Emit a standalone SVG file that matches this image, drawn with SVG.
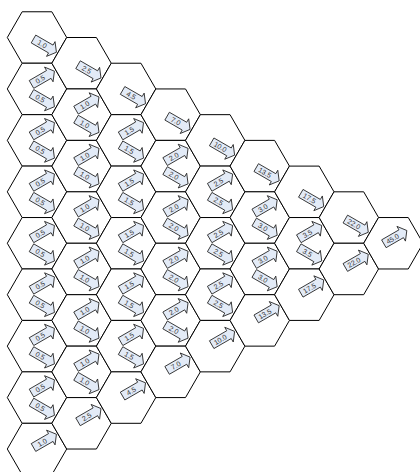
<svg xmlns="http://www.w3.org/2000/svg" xmlns:xlink="http://www.w3.org/1999/xlink" width="420" height="472" viewBox="0 0 420 472">
<style>
.hex{fill:#fff;stroke:#000;stroke-width:1}
.ar{fill:#e3ebf7;stroke:#222;stroke-width:0.8}
.lt{font-family:"Liberation Sans",Arial,sans-serif;font-size:7px;fill:#333;text-anchor:middle}
</style>
<defs>
<polygon id="hx" class="hex" points="-29.7,0 -14.85,-25.72 14.85,-25.72 29.7,0 14.85,25.72 -14.85,25.72"/>
<path id="ar" class="ar" d="M-11,-4.5 H9 V-8.5 L15.5,0 L9,8.5 V4.5 H-11 Z"/>
</defs>
<rect width="420" height="472" fill="#fff"/>
<g id="nodes">
<g id="h0-0" transform="translate(37,37.5)"><use href="#hx"/></g>
<g id="h0-1" transform="translate(37,88.94)"><use href="#hx"/></g>
<g id="h0-2" transform="translate(37,140.38)"><use href="#hx"/></g>
<g id="h0-3" transform="translate(37,191.82)"><use href="#hx"/></g>
<g id="h0-4" transform="translate(37,243.26)"><use href="#hx"/></g>
<g id="h0-5" transform="translate(37,294.7)"><use href="#hx"/></g>
<g id="h0-6" transform="translate(37,346.14)"><use href="#hx"/></g>
<g id="h0-7" transform="translate(37,397.58)"><use href="#hx"/></g>
<g id="h0-8" transform="translate(37,449.02)"><use href="#hx"/></g>
<g id="h1-0" transform="translate(81.55,63.22)"><use href="#hx"/></g>
<g id="h1-1" transform="translate(81.55,114.66)"><use href="#hx"/></g>
<g id="h1-2" transform="translate(81.55,166.1)"><use href="#hx"/></g>
<g id="h1-3" transform="translate(81.55,217.54)"><use href="#hx"/></g>
<g id="h1-4" transform="translate(81.55,268.98)"><use href="#hx"/></g>
<g id="h1-5" transform="translate(81.55,320.42)"><use href="#hx"/></g>
<g id="h1-6" transform="translate(81.55,371.86)"><use href="#hx"/></g>
<g id="h1-7" transform="translate(81.55,423.3)"><use href="#hx"/></g>
<g id="h2-0" transform="translate(126.1,88.94)"><use href="#hx"/></g>
<g id="h2-1" transform="translate(126.1,140.38)"><use href="#hx"/></g>
<g id="h2-2" transform="translate(126.1,191.82)"><use href="#hx"/></g>
<g id="h2-3" transform="translate(126.1,243.26)"><use href="#hx"/></g>
<g id="h2-4" transform="translate(126.1,294.7)"><use href="#hx"/></g>
<g id="h2-5" transform="translate(126.1,346.14)"><use href="#hx"/></g>
<g id="h2-6" transform="translate(126.1,397.58)"><use href="#hx"/></g>
<g id="h3-0" transform="translate(170.65,114.66)"><use href="#hx"/></g>
<g id="h3-1" transform="translate(170.65,166.1)"><use href="#hx"/></g>
<g id="h3-2" transform="translate(170.65,217.54)"><use href="#hx"/></g>
<g id="h3-3" transform="translate(170.65,268.98)"><use href="#hx"/></g>
<g id="h3-4" transform="translate(170.65,320.42)"><use href="#hx"/></g>
<g id="h3-5" transform="translate(170.65,371.86)"><use href="#hx"/></g>
<g id="h4-0" transform="translate(215.2,140.38)"><use href="#hx"/></g>
<g id="h4-1" transform="translate(215.2,191.82)"><use href="#hx"/></g>
<g id="h4-2" transform="translate(215.2,243.26)"><use href="#hx"/></g>
<g id="h4-3" transform="translate(215.2,294.7)"><use href="#hx"/></g>
<g id="h4-4" transform="translate(215.2,346.14)"><use href="#hx"/></g>
<g id="h5-0" transform="translate(259.75,166.1)"><use href="#hx"/></g>
<g id="h5-1" transform="translate(259.75,217.54)"><use href="#hx"/></g>
<g id="h5-2" transform="translate(259.75,268.98)"><use href="#hx"/></g>
<g id="h5-3" transform="translate(259.75,320.42)"><use href="#hx"/></g>
<g id="h6-0" transform="translate(304.3,191.82)"><use href="#hx"/></g>
<g id="h6-1" transform="translate(304.3,243.26)"><use href="#hx"/></g>
<g id="h6-2" transform="translate(304.3,294.7)"><use href="#hx"/></g>
<g id="h7-0" transform="translate(348.85,217.54)"><use href="#hx"/></g>
<g id="h7-1" transform="translate(348.85,268.98)"><use href="#hx"/></g>
<g id="h8-0" transform="translate(393.4,243.26)"><use href="#hx"/></g>
</g>
<g id="connectors">
<g transform="translate(43,44.5) rotate(30)"><use href="#ar"/><text class="lt" x="-1" y="2.5">1.0</text></g>
<g transform="translate(87.55,70.22) rotate(30)"><use href="#ar"/><text class="lt" x="-1" y="2.5">2.5</text></g>
<g transform="translate(132.1,95.94) rotate(30)"><use href="#ar"/><text class="lt" x="-1" y="2.5">4.5</text></g>
<g transform="translate(176.65,121.66) rotate(30)"><use href="#ar"/><text class="lt" x="-1" y="2.5">7.0</text></g>
<g transform="translate(221.2,147.38) rotate(30)"><use href="#ar"/><text class="lt" x="-1" y="2.5">10.0</text></g>
<g transform="translate(265.75,173.1) rotate(30)"><use href="#ar"/><text class="lt" x="-1" y="2.5">13.5</text></g>
<g transform="translate(310.3,198.82) rotate(30)"><use href="#ar"/><text class="lt" x="-1" y="2.5">17.5</text></g>
<g transform="translate(354.85,224.54) rotate(30)"><use href="#ar"/><text class="lt" x="-1" y="2.5">22.0</text></g>
<g transform="translate(43,442.02) rotate(-30)"><use href="#ar"/><text class="lt" x="-1" y="2.5">1.0</text></g>
<g transform="translate(87.55,416.3) rotate(-30)"><use href="#ar"/><text class="lt" x="-1" y="2.5">2.5</text></g>
<g transform="translate(132.1,390.58) rotate(-30)"><use href="#ar"/><text class="lt" x="-1" y="2.5">4.5</text></g>
<g transform="translate(176.65,364.86) rotate(-30)"><use href="#ar"/><text class="lt" x="-1" y="2.5">7.0</text></g>
<g transform="translate(221.2,339.14) rotate(-30)"><use href="#ar"/><text class="lt" x="-1" y="2.5">10.0</text></g>
<g transform="translate(265.75,313.42) rotate(-30)"><use href="#ar"/><text class="lt" x="-1" y="2.5">13.5</text></g>
<g transform="translate(310.3,287.7) rotate(-30)"><use href="#ar"/><text class="lt" x="-1" y="2.5">17.5</text></g>
<g transform="translate(354.85,261.98) rotate(-30)"><use href="#ar"/><text class="lt" x="-1" y="2.5">22.0</text></g>
<g transform="translate(393.4,238.26) rotate(-30)"><use href="#ar"/><text class="lt" x="-1" y="2.5">45.0</text></g>
<g transform="translate(41,78.94) rotate(-30)"><use href="#ar"/><text class="lt" x="-1" y="2.5">0.5</text></g>
<g transform="translate(41,98.94) rotate(30)"><use href="#ar"/><text class="lt" x="-1" y="2.5">0.5</text></g>
<g transform="translate(41,130.38) rotate(-30)"><use href="#ar"/><text class="lt" x="-1" y="2.5">0.5</text></g>
<g transform="translate(41,150.38) rotate(30)"><use href="#ar"/><text class="lt" x="-1" y="2.5">0.5</text></g>
<g transform="translate(41,181.82) rotate(-30)"><use href="#ar"/><text class="lt" x="-1" y="2.5">0.5</text></g>
<g transform="translate(41,201.82) rotate(30)"><use href="#ar"/><text class="lt" x="-1" y="2.5">0.5</text></g>
<g transform="translate(41,233.26) rotate(-30)"><use href="#ar"/><text class="lt" x="-1" y="2.5">0.5</text></g>
<g transform="translate(41,253.26) rotate(30)"><use href="#ar"/><text class="lt" x="-1" y="2.5">0.5</text></g>
<g transform="translate(41,284.7) rotate(-30)"><use href="#ar"/><text class="lt" x="-1" y="2.5">0.5</text></g>
<g transform="translate(41,304.7) rotate(30)"><use href="#ar"/><text class="lt" x="-1" y="2.5">0.5</text></g>
<g transform="translate(41,336.14) rotate(-30)"><use href="#ar"/><text class="lt" x="-1" y="2.5">0.5</text></g>
<g transform="translate(41,356.14) rotate(30)"><use href="#ar"/><text class="lt" x="-1" y="2.5">0.5</text></g>
<g transform="translate(41,387.58) rotate(-30)"><use href="#ar"/><text class="lt" x="-1" y="2.5">0.5</text></g>
<g transform="translate(41,407.58) rotate(30)"><use href="#ar"/><text class="lt" x="-1" y="2.5">0.5</text></g>
<g transform="translate(85.55,104.66) rotate(-30)"><use href="#ar"/><text class="lt" x="-1" y="2.5">1.0</text></g>
<g transform="translate(85.55,124.66) rotate(30)"><use href="#ar"/><text class="lt" x="-1" y="2.5">1.0</text></g>
<g transform="translate(85.55,156.1) rotate(-30)"><use href="#ar"/><text class="lt" x="-1" y="2.5">1.0</text></g>
<g transform="translate(85.55,176.1) rotate(30)"><use href="#ar"/><text class="lt" x="-1" y="2.5">1.0</text></g>
<g transform="translate(85.55,207.54) rotate(-30)"><use href="#ar"/><text class="lt" x="-1" y="2.5">1.0</text></g>
<g transform="translate(85.55,227.54) rotate(30)"><use href="#ar"/><text class="lt" x="-1" y="2.5">1.0</text></g>
<g transform="translate(85.55,258.98) rotate(-30)"><use href="#ar"/><text class="lt" x="-1" y="2.5">1.0</text></g>
<g transform="translate(85.55,278.98) rotate(30)"><use href="#ar"/><text class="lt" x="-1" y="2.5">1.0</text></g>
<g transform="translate(85.55,310.42) rotate(-30)"><use href="#ar"/><text class="lt" x="-1" y="2.5">1.0</text></g>
<g transform="translate(85.55,330.42) rotate(30)"><use href="#ar"/><text class="lt" x="-1" y="2.5">1.0</text></g>
<g transform="translate(85.55,361.86) rotate(-30)"><use href="#ar"/><text class="lt" x="-1" y="2.5">1.0</text></g>
<g transform="translate(85.55,381.86) rotate(30)"><use href="#ar"/><text class="lt" x="-1" y="2.5">1.0</text></g>
<g transform="translate(130.1,130.38) rotate(-30)"><use href="#ar"/><text class="lt" x="-1" y="2.5">1.5</text></g>
<g transform="translate(130.1,150.38) rotate(30)"><use href="#ar"/><text class="lt" x="-1" y="2.5">1.5</text></g>
<g transform="translate(130.1,181.82) rotate(-30)"><use href="#ar"/><text class="lt" x="-1" y="2.5">1.5</text></g>
<g transform="translate(130.1,201.82) rotate(30)"><use href="#ar"/><text class="lt" x="-1" y="2.5">1.5</text></g>
<g transform="translate(130.1,233.26) rotate(-30)"><use href="#ar"/><text class="lt" x="-1" y="2.5">1.5</text></g>
<g transform="translate(130.1,253.26) rotate(30)"><use href="#ar"/><text class="lt" x="-1" y="2.5">1.5</text></g>
<g transform="translate(130.1,284.7) rotate(-30)"><use href="#ar"/><text class="lt" x="-1" y="2.5">1.5</text></g>
<g transform="translate(130.1,304.7) rotate(30)"><use href="#ar"/><text class="lt" x="-1" y="2.5">1.5</text></g>
<g transform="translate(130.1,336.14) rotate(-30)"><use href="#ar"/><text class="lt" x="-1" y="2.5">1.5</text></g>
<g transform="translate(130.1,356.14) rotate(30)"><use href="#ar"/><text class="lt" x="-1" y="2.5">1.5</text></g>
<g transform="translate(174.65,156.1) rotate(-30)"><use href="#ar"/><text class="lt" x="-1" y="2.5">2.0</text></g>
<g transform="translate(174.65,176.1) rotate(30)"><use href="#ar"/><text class="lt" x="-1" y="2.5">2.0</text></g>
<g transform="translate(174.65,207.54) rotate(-30)"><use href="#ar"/><text class="lt" x="-1" y="2.5">2.0</text></g>
<g transform="translate(174.65,227.54) rotate(30)"><use href="#ar"/><text class="lt" x="-1" y="2.5">2.0</text></g>
<g transform="translate(174.65,258.98) rotate(-30)"><use href="#ar"/><text class="lt" x="-1" y="2.5">2.0</text></g>
<g transform="translate(174.65,278.98) rotate(30)"><use href="#ar"/><text class="lt" x="-1" y="2.5">2.0</text></g>
<g transform="translate(174.65,310.42) rotate(-30)"><use href="#ar"/><text class="lt" x="-1" y="2.5">2.0</text></g>
<g transform="translate(174.65,330.42) rotate(30)"><use href="#ar"/><text class="lt" x="-1" y="2.5">2.0</text></g>
<g transform="translate(219.2,181.82) rotate(-30)"><use href="#ar"/><text class="lt" x="-1" y="2.5">2.5</text></g>
<g transform="translate(219.2,201.82) rotate(30)"><use href="#ar"/><text class="lt" x="-1" y="2.5">2.5</text></g>
<g transform="translate(219.2,233.26) rotate(-30)"><use href="#ar"/><text class="lt" x="-1" y="2.5">2.5</text></g>
<g transform="translate(219.2,253.26) rotate(30)"><use href="#ar"/><text class="lt" x="-1" y="2.5">2.5</text></g>
<g transform="translate(219.2,284.7) rotate(-30)"><use href="#ar"/><text class="lt" x="-1" y="2.5">2.5</text></g>
<g transform="translate(219.2,304.7) rotate(30)"><use href="#ar"/><text class="lt" x="-1" y="2.5">2.5</text></g>
<g transform="translate(263.75,207.54) rotate(-30)"><use href="#ar"/><text class="lt" x="-1" y="2.5">3.0</text></g>
<g transform="translate(263.75,227.54) rotate(30)"><use href="#ar"/><text class="lt" x="-1" y="2.5">3.0</text></g>
<g transform="translate(263.75,258.98) rotate(-30)"><use href="#ar"/><text class="lt" x="-1" y="2.5">3.0</text></g>
<g transform="translate(263.75,278.98) rotate(30)"><use href="#ar"/><text class="lt" x="-1" y="2.5">3.0</text></g>
<g transform="translate(308.3,233.26) rotate(-30)"><use href="#ar"/><text class="lt" x="-1" y="2.5">3.5</text></g>
<g transform="translate(308.3,253.26) rotate(30)"><use href="#ar"/><text class="lt" x="-1" y="2.5">3.5</text></g>
</g>
</svg>
